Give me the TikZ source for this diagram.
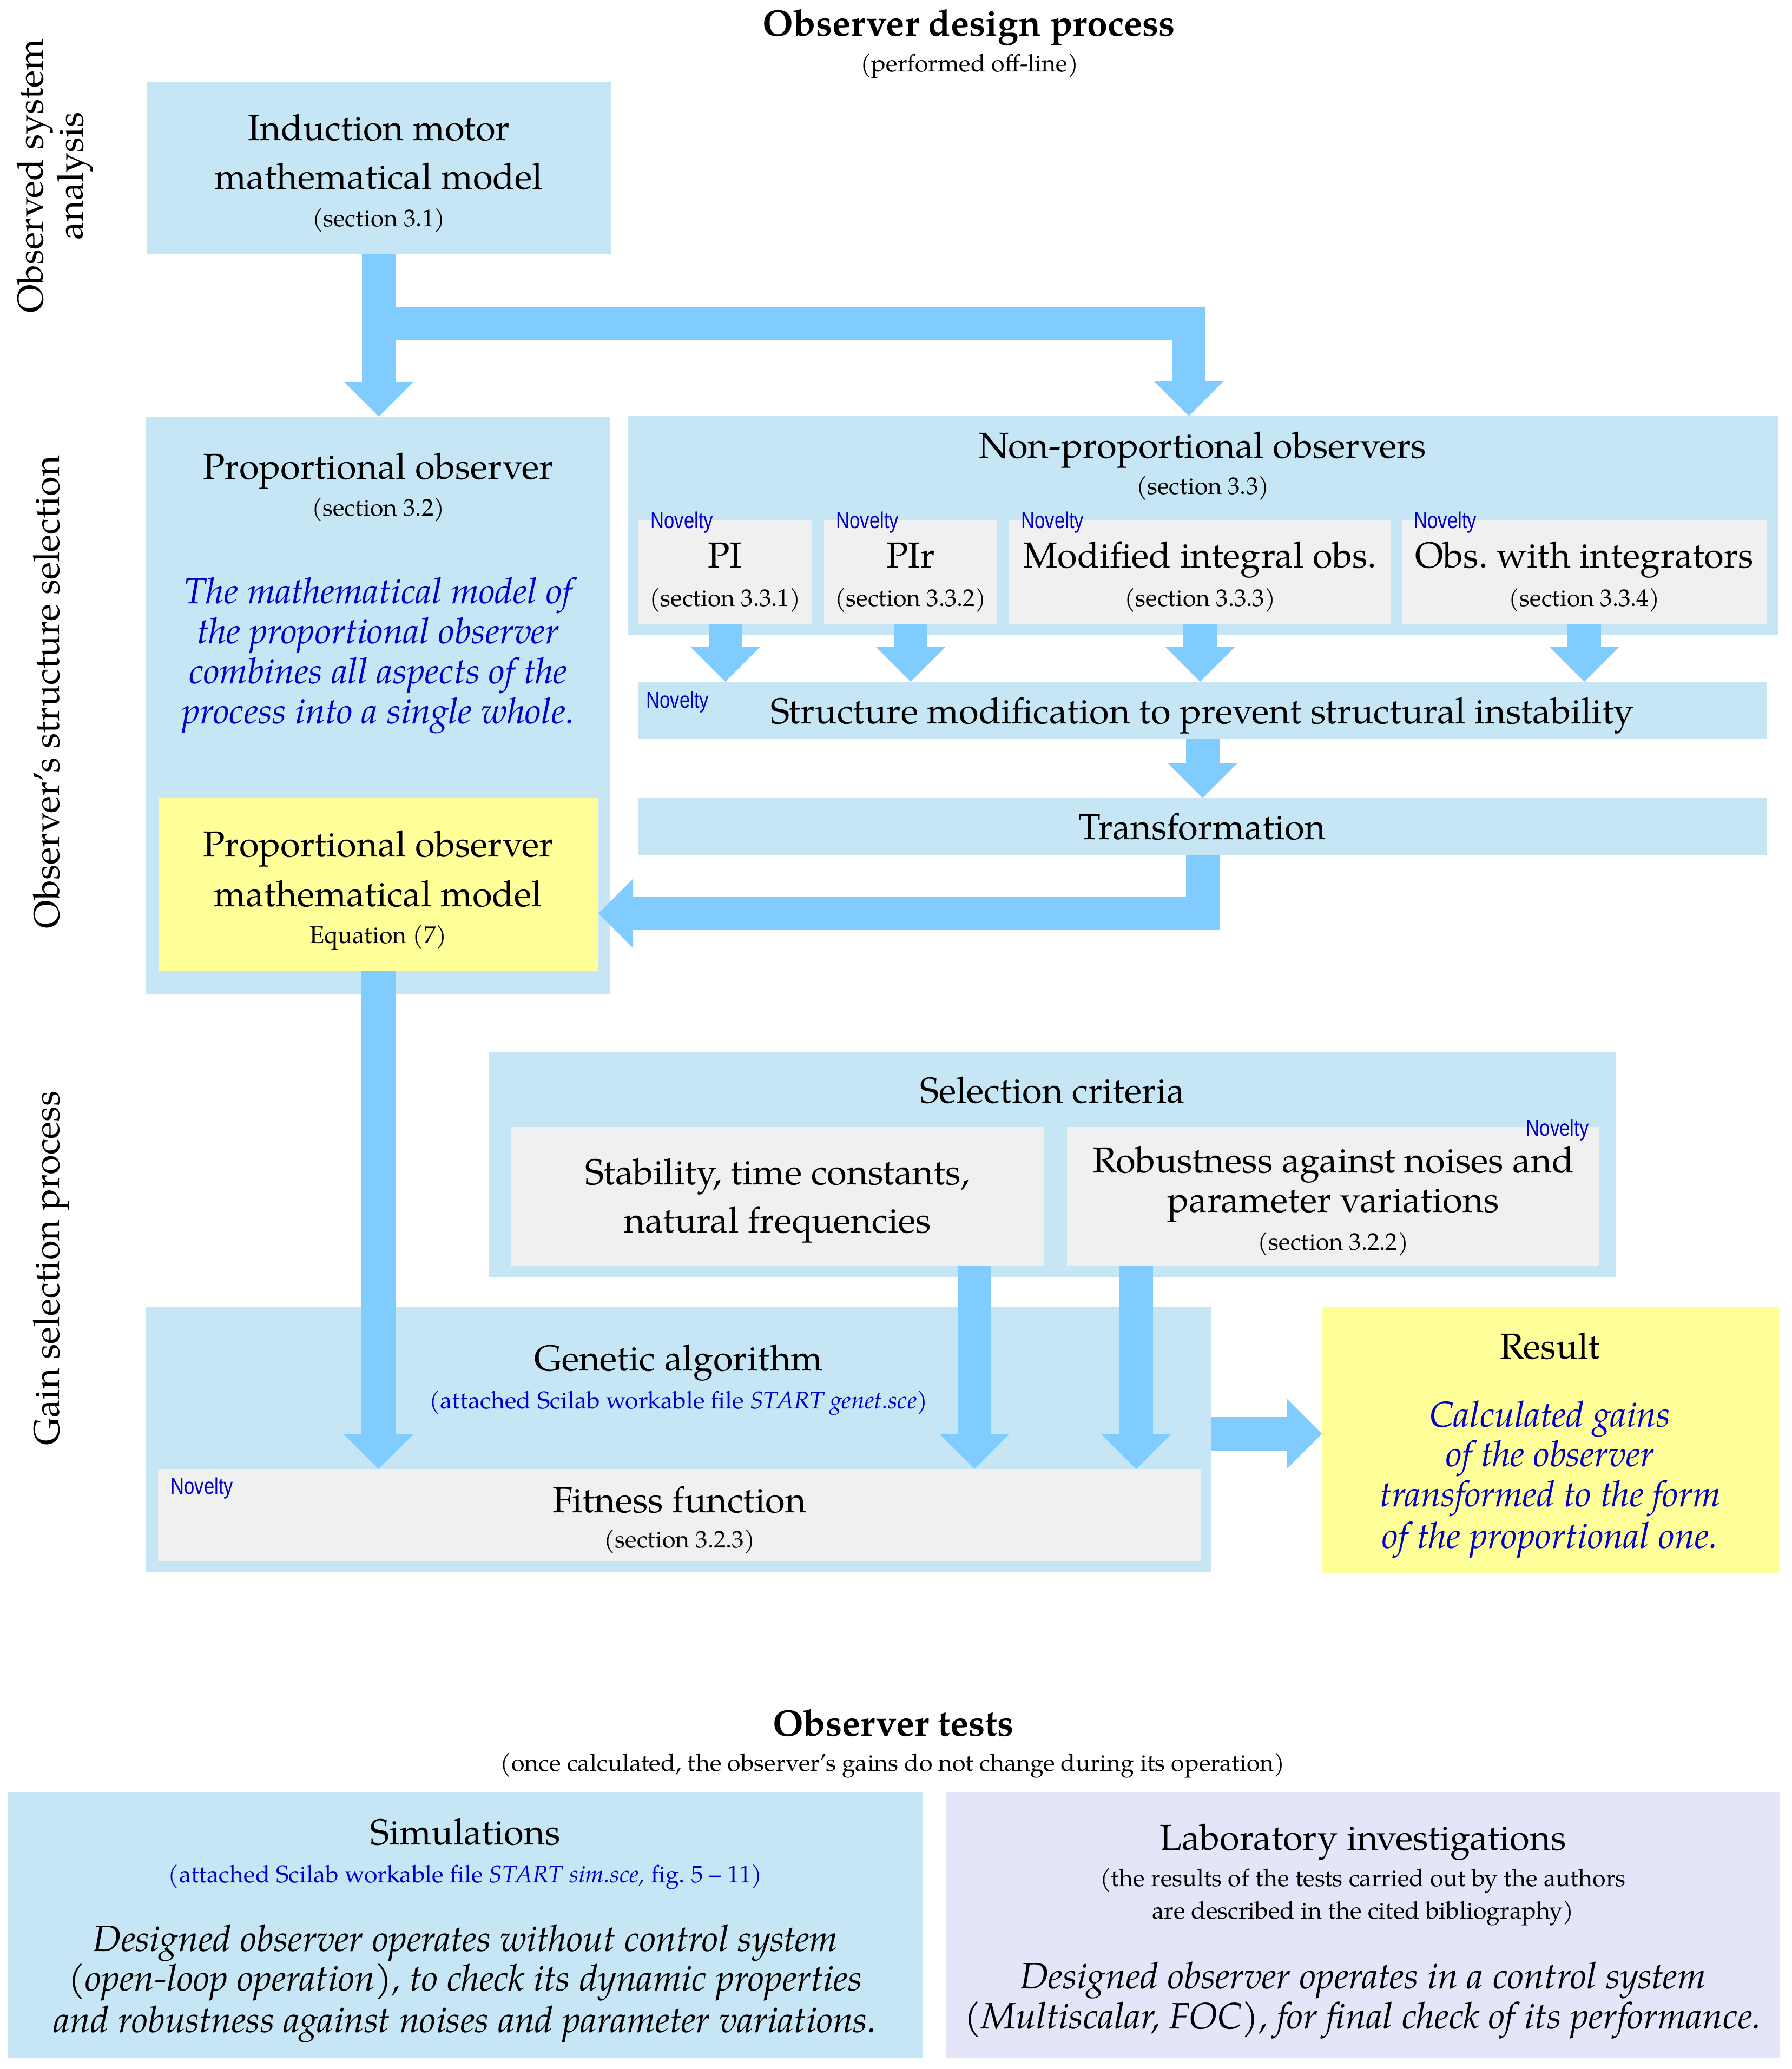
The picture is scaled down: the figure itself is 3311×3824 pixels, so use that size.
\documentclass[tikz,border=0pt]{standalone}
\usepackage{fontspec}
\setmainfont{TeX Gyre Pagella}
\newfontfamily\novfont[FakeStretch=0.82]{Liberation Sans}
\usetikzlibrary{arrows.meta,fit}
\definecolor{boxblue}{RGB}{198,230,245}
\definecolor{arrowblue}{RGB}{128,204,255}
\definecolor{subgray}{RGB}{240,240,240}
\definecolor{resyellow}{RGB}{255,255,153}
\definecolor{labviolet}{RGB}{229,229,250}
\definecolor{txtblue}{RGB}{0,0,204}
\newcommand\fbig{\fontsize{19}{25}\selectfont}
\newcommand\fbigi{\fontsize{19.3}{25}\selectfont}
\newcommand\fttl{\fontsize{19.4}{25}\selectfont}
\newcommand\fsml{\fontsize{12.7}{17}\selectfont}
\newcommand\fnov{\fontsize{12}{14}\novfont}
\frenchspacing
\begin{document}
\begin{tikzpicture}[x=0.01cm,y=-0.01cm,
  panel/.style={fill=boxblue, draw=none, inner sep=0pt, outer sep=0pt},
  subbox/.style={fill=subgray, draw=none, inner sep=0pt, outer sep=0pt},
  yelbox/.style={fill=resyellow, draw=none, inner sep=0pt, outer sep=0pt},
  labbox/.style={fill=labviolet, draw=none, inner sep=0pt, outer sep=0pt},
  flow/.style={draw=arrowblue, line width=0.62cm, line join=miter,
    -{Triangle[width=1.28cm,length=0.64cm,line width=0pt]}},
  big/.style={anchor=base, inner sep=0pt, font=\fbig},
  bigit/.style={anchor=base, inner sep=0pt, font=\fbigi\itshape},
  bigitb/.style={anchor=base, inner sep=0pt, font=\fbig\itshape, text=txtblue},
  sml/.style={anchor=base, inner sep=0pt, font=\fsml},
  smlb/.style={anchor=base, inner sep=0pt, font=\fsml, text=txtblue},
  ttl/.style={anchor=base, inner sep=0pt, font=\fttl\bfseries},
  side/.style={anchor=base, inner sep=0pt, rotate=90, font=\fbig},
  nov/.style={anchor=base west, inner sep=0pt, font=\fnov, text=txtblue},
  nove/.style={anchor=base east, inner sep=0pt, font=\fnov, text=txtblue}]
\useasboundingbox (0,0) rectangle (3311,3824);

% ---------- panels ----------
\node[panel, fit={(271,151) (1129,469)}] (ind) {};
\node[panel, fit={(270,770) (1128,1837)}] (prop) {};
\node[yelbox, fit={(293,1475) (1106,1795)}] (yel) {};
\node[panel, fit={(1160,769) (3286,1174)}] (nonprop) {};
\node[subbox, fit={(1180,962) (1501,1153)}] (pi) {};
\node[subbox, fit={(1523,962) (1843,1153)}] (pir) {};
\node[subbox, fit={(1865,962) (2571,1153)}] (mod) {};
\node[subbox, fit={(2591,962) (3265,1153)}] (owi) {};
\node[panel, fit={(1180,1260) (3265,1366)}] (smod) {};
\node[panel, fit={(1180,1475) (3265,1581)}] (trans) {};
\node[panel, fit={(903,1944) (2987,2361)}] (sel) {};
\node[subbox, fit={(945,2083) (1929,2339)}] (stab) {};
\node[subbox, fit={(1972,2083) (2956,2339)}] (rob) {};
\node[panel, fit={(270,2415) (2238,2906)}] (gen) {};
\node[subbox, fit={(292,2715) (2220,2885)}] (fitn) {};
\node[yelbox, fit={(2443,2415) (3288,2907)}] (res) {};
\node[panel, fit={(15,3312) (1705,3804)}] (sim) {};
\node[labbox, fit={(1748,3312) (3290,3804)}] (lab) {};

% ---------- connectors ----------
\coordinate (br) at (700,598);
\coordinate (npin) at (2197,769);
\coordinate (yin) at (1106,1688);
\coordinate (sa) at (1801,2339);
\coordinate (ra) at (2100,2339);
\coordinate (ga) at (2238,2650);
\draw[flow] (ind.south) -- (ind.south |- prop.north);
\draw[flow] (br) -| (npin);
\draw[flow] (pi.south) -- (pi.south |- smod.north);
\draw[flow] (pir.south) -- (pir.south |- smod.north);
\draw[flow] (mod.south) -- (mod.south |- smod.north);
\draw[flow] (owi.south) -- (owi.south |- smod.north);
\draw[flow] (smod.south) -- (trans.north);
\draw[flow] (trans.south) |- (yin);
\draw[flow] (yel.south) -- (yel.south |- fitn.north);
\draw[flow] (sa) -- (sa |- fitn.north);
\draw[flow] (ra) -- (ra |- fitn.north);
\draw[flow] (ga) -- (ga -| res.west);

% ---------- titles ----------
\node[ttl] (t1) at (1791,67) {Observer design process};
\node[sml] (t1s) at (1792,133) {(performed off-line)};
\node[side] (s1a) at (80,325) {Observed system};
\node[side] (s1b) at (153,325) {analysis};
\node[side] (s2) at (110,1279) {Observer's structure selection};
\node[side] (s3) at (110,2344) {Gain selection process};

% ---------- induction ----------
\node[big] (ind1) at (700,260) {Induction motor};
\node[big] (ind2) at (700,349) {mathematical model};
\node[sml] (ind3) at (700,418) {(section 3.1)};

% ---------- proportional ----------
\node[big] (p1) at (699,885) {Proportional observer};
\node[sml] (p2) at (699,953) {(section 3.2)};
\node[bigitb] (p3) at (699,1115) {The mathematical model of};
\node[bigitb] (p4) at (699,1189) {the proportional observer};
\node[bigitb] (p5) at (699,1263) {combines all aspects of the};
\node[bigitb] (p6) at (699,1337) {process into a single whole.};
\node[big] (y1) at (699,1583) {Proportional observer};
\node[big] (y2) at (699,1675) {mathematical model};
\node[sml] (y3) at (699,1743) {Equation (7)};

% ---------- non-proportional ----------
\node[big] (n1) at (2223,846) {Non-proportional observers};
\node[sml] (n2) at (2223,913) {(section 3.3)};
\node[big] (pi1) at (1340,1049) {PI};
\node[sml] (pi2) at (1340,1120) {(section 3.3.1)};
\node[big] (pir1) at (1683,1049) {PIr};
\node[sml] (pir2) at (1683,1120) {(section 3.3.2)};
\node[big] (mod1) at (2218,1049) {Modified integral obs.};
\node[sml] (mod2) at (2218,1120) {(section 3.3.3)};
\node[big] (owi1) at (2928,1049) {Obs. with integrators};
\node[sml] (owi2) at (2928,1120) {(section 3.3.4)};
\node[nov] (nv1) at (1202,976) {Novelty};
\node[nov] (nv2) at (1545,976) {Novelty};
\node[nov] (nv3) at (1887,976) {Novelty};
\node[nov] (nv4) at (2613,976) {Novelty};
\node[nov] (nv5) at (1194,1308) {Novelty};
\node[big] (sm1) at (2222,1337) {Structure modification to prevent structural instability};
\node[big] (tr1) at (2222,1551) {Transformation};

% ---------- gain selection ----------
\node[big] (sc1) at (1945,2038) {Selection criteria};
\node[big] (st1) at (1437,2189) {Stability, time constants,};
\node[big] (st2) at (1437,2278) {natural frequencies};
\node[big] (rb1) at (2464,2167) {Robustness against noises and};
\node[big] (rb2) at (2464,2240) {parameter variations};
\node[sml] (rb3) at (2464,2310) {(section 3.2.2)};
\node[nove] (nv6) at (2937,2099) {Novelty};
\node[big] (g1) at (1254,2533) {Genetic algorithm};
\node[smlb] (g2) at (1254,2603) {(attached Scilab workable file \textit{START genet.sce})};
\node[big] (f1) at (1256,2795) {Fitness function};
\node[sml] (f2) at (1256,2860) {(section 3.2.3)};
\node[nov] (nv7) at (315,2761) {Novelty};
\node[big] (r1) at (2865,2511) {Result};
\node[bigitb] (r2) at (2865,2637) {Calculated gains};
\node[bigitb] (r3) at (2865,2710) {of the observer};
\node[bigitb] (r4) at (2865,2784) {transformed to the form};
\node[bigitb] (r5) at (2865,2861) {of the proportional one.};

% ---------- tests ----------
\node[ttl] (t2) at (1651,3208) {Observer tests};
\node[sml] (t2s) at (1650,3273) {(once calculated, the observer's gains do not change during its operation)};
\node[big] (si1) at (860,3409) {Simulations};
\node[smlb] (si2) at (860,3479) {(attached Scilab workable file \textit{START sim.sce,} fig. 5 -- 11)};
\node[bigit] (si3) at (860,3606) {Designed observer operates without control system};
\node[bigit] (si4) at (860,3679) {(open-loop operation), to check its dynamic properties};
\node[bigit] (si5) at (860,3756) {and robustness against noises and parameter variations.};
\node[big] (lb1) at (2519,3419) {Laboratory investigations};
\node[sml] (lb2) at (2519,3486) {(the results of the tests carried out by the authors};
\node[sml] (lb3) at (2519,3546) {are described in the cited bibliography)};
\node[bigit] (lb4) at (2519,3675) {Designed observer operates in a control system};
\node[bigit] (lb5) at (2519,3749) {(Multiscalar, FOC), for final check of its performance.};
\end{tikzpicture}
\end{document}
